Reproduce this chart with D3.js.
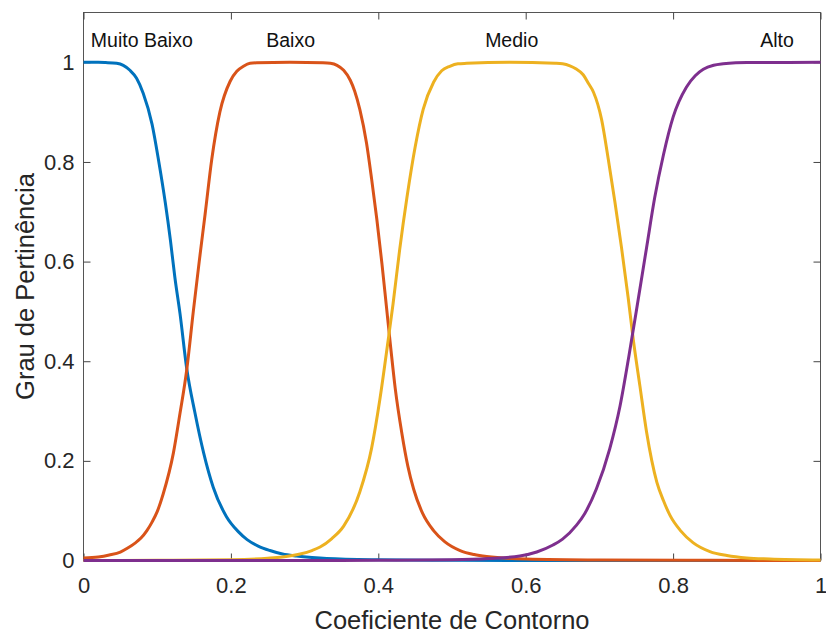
<!DOCTYPE html>
<html>
<head>
<meta charset="utf-8">
<script src="https://cdn.jsdelivr.net/npm/d3@7.9.0/dist/d3.min.js"></script>
<style>
  body { margin: 0; background: #fff; }
  svg { display: block; font-family: "Liberation Sans", Arial, Helvetica, sans-serif; }
  .axis text { fill: #262626; }
  .axis line { stroke: #444; }
</style>
</head>
<body>
<svg id="chart" width="826" height="634"></svg>
<script>
// membership functions, values
const mfNames = ["Muito Baixo", "Baixo", "Medio", "Alto"];

const muitoBaixoX = [0, 0.02, 0.03, 0.045, 0.054, 0.063, 0.072, 0.081, 0.093, 0.102, 0.111, 0.118, 0.124, 0.131, 0.140, 0.151, 0.163, 0.176, 0.194, 0.21, 0.222, 0.237, 0.253, 0.27, 0.289, 0.31, 0.33, 0.4, 0.5, 0.7, 1];
const muitoBaixoY = [1, 1, 0.9995, 0.998, 0.994, 0.984, 0.968, 0.938, 0.876, 0.802, 0.718, 0.642, 0.568, 0.495, 0.386, 0.298, 0.216, 0.147, 0.088, 0.058, 0.042, 0.029, 0.020, 0.013, 0.009, 0.006, 0.004, 0.0015, 0.0004, 0, 0];

const baixoX = [0, 0.02, 0.035, 0.05, 0.06, 0.07, 0.078, 0.086, 0.093, 0.1, 0.108, 0.122, 0.131, 0.140, 0.149, 0.157, 0.165, 0.174, 0.185, 0.199, 0.208, 0.217, 0.226, 0.235, 0.28, 0.325, 0.335, 0.344, 0.353, 0.362, 0.368, 0.375, 0.384, 0.391, 0.398, 0.405, 0.411, 0.417, 0.423, 0.432, 0.44, 0.448, 0.46, 0.475, 0.49, 0.511, 0.53, 0.547, 0.6, 0.7, 0.85, 1];
const baixoY = [0.005, 0.007, 0.011, 0.017, 0.025, 0.035, 0.045, 0.06, 0.077, 0.098, 0.133, 0.216, 0.296, 0.382, 0.5, 0.6, 0.695, 0.805, 0.9, 0.962, 0.982, 0.992, 0.998, 0.999, 1, 0.999, 0.998, 0.994, 0.984, 0.964, 0.942, 0.905, 0.838, 0.765, 0.685, 0.595, 0.51, 0.425, 0.345, 0.255, 0.19, 0.143, 0.095, 0.06, 0.038, 0.02, 0.012, 0.008, 0.003, 0.001, 0.0003, 0.0001];

const medioX = [0, 0.1, 0.2, 0.25, 0.27, 0.294, 0.31, 0.321, 0.337, 0.353, 0.375, 0.391, 0.402, 0.413, 0.42, 0.429, 0.439, 0.45, 0.461, 0.475, 0.486, 0.497, 0.508, 0.52, 0.578, 0.64, 0.65, 0.66, 0.668, 0.678, 0.685, 0.692, 0.703, 0.712, 0.721, 0.730, 0.739, 0.746, 0.755, 0.764, 0.778, 0.787, 0.796, 0.81, 0.827, 0.85, 0.873, 0.9, 0.931, 1];
const medioY = [0.0001, 0.0003, 0.0016, 0.0045, 0.007, 0.013, 0.020, 0.027, 0.044, 0.069, 0.138, 0.226, 0.322, 0.438, 0.515, 0.624, 0.73, 0.83, 0.906, 0.96, 0.983, 0.992, 0.997, 0.998, 1, 0.998, 0.997, 0.993, 0.987, 0.975, 0.958, 0.94, 0.885, 0.806, 0.72, 0.628, 0.528, 0.443, 0.35, 0.258, 0.157, 0.12, 0.09, 0.06, 0.036, 0.018, 0.010, 0.005, 0.003, 0.001];

const altoX = [0, 0.3, 0.4, 0.5, 0.55, 0.592, 0.615, 0.637, 0.65, 0.669, 0.68, 0.696, 0.714, 0.728, 0.74, 0.75, 0.764, 0.775, 0.787, 0.8, 0.818, 0.83, 0.841, 0.855, 0.868, 0.885, 0.9, 1];
const altoY = [0, 0.0001, 0.0003, 0.0015, 0.004, 0.009, 0.017, 0.031, 0.043, 0.071, 0.094, 0.144, 0.224, 0.31, 0.41, 0.5, 0.628, 0.728, 0.815, 0.89, 0.95, 0.973, 0.986, 0.994, 0.997, 0.999, 0.9995, 1];

// where each name sits along x (data units)
const labelX = [0.01, 0.281, 0.581, 0.941];

const xTicks = [0, 0.2, 0.4, 0.6, 0.8, 1];
const yTicks = [0, 0.2, 0.4, 0.6, 0.8, 1];

const colors = ["#0072BD", "#D95319", "#EDB120", "#7E2F8E"];

const series = [
  { name: mfNames[0], xs: muitoBaixoX, ys: muitoBaixoY },
  { name: mfNames[1], xs: baixoX, ys: baixoY },
  { name: mfNames[2], xs: medioX, ys: medioY },
  { name: mfNames[3], xs: altoX, ys: altoY },
].map((s, i) => ({
  ...s,
  color: colors[i],
  labelX: labelX[i],
  points: s.xs.map((v, j) => [v, s.ys[j]]),
}));

const svg = d3.select("#chart");

const xScale = d3.scaleLinear().domain([0, 1]).range([83.5, 820.5]);
const yScale = d3.scaleLinear().domain([0, 1.1]).range([560.5, 12.5]);

const fmt = (d) => (d === 0 || d === 1 ? String(d) : d3.format(".1f")(d));

// box
svg
  .append("rect")
  .attr("x", xScale(0))
  .attr("y", yScale(1.1))
  .attr("width", xScale(1) - xScale(0))
  .attr("height", yScale(0) - yScale(1.1))
  .attr("fill", "none")
  .attr("stroke", "#555")
  .attr("stroke-width", 1);

// axes, ticks pointing inward like matlab
const bottom = svg
  .append("g")
  .attr("class", "axis")
  .attr("transform", `translate(0, ${yScale(0)})`)
  .call(d3.axisBottom(xScale).tickValues(xTicks).tickFormat(fmt).tickSizeInner(-7).tickSizeOuter(0).tickPadding(17));

const left = svg
  .append("g")
  .attr("class", "axis")
  .attr("transform", `translate(${xScale(0)}, 0)`)
  .call(d3.axisLeft(yScale).tickValues(yTicks).tickFormat(fmt).tickSizeInner(-7).tickSizeOuter(0).tickPadding(9));

svg
  .append("g")
  .attr("class", "axis")
  .attr("transform", `translate(0, ${yScale(1.1)})`)
  .call(d3.axisTop(xScale).tickValues(xTicks).tickFormat("").tickSizeInner(-7).tickSizeOuter(0));

svg
  .append("g")
  .attr("class", "axis")
  .attr("transform", `translate(${xScale(1)}, 0)`)
  .call(d3.axisRight(yScale).tickValues(yTicks).tickFormat("").tickSizeInner(-7).tickSizeOuter(0));

svg.selectAll(".axis .domain").remove();
bottom.selectAll("text").style("font-size", "22px");
left.selectAll("text").style("font-size", "22px");
svg.selectAll(".axis").attr("font-family", null);

// curves
const line = d3
  .line()
  .x((d) => xScale(d[0]))
  .y((d) => yScale(d[1]))
  .curve(d3.curveMonotoneX);

svg
  .append("g")
  .selectAll("path")
  .data(series)
  .join("path")
  .attr("d", (d) => line(d.points))
  .attr("fill", "none")
  .attr("stroke", (d) => d.color)
  .attr("stroke-width", 3)
  .attr("stroke-linejoin", "round");

// mf names
svg
  .append("g")
  .selectAll("text")
  .data(series)
  .join("text")
  .attr("x", (d) => xScale(d.labelX))
  .attr("y", yScale(1.03))
  .attr("text-anchor", (d, i) => (i === 0 ? "start" : "middle"))
  .style("font-size", "19.5px")
  .attr("fill", "#111")
  .text((d) => d.name);

// axis labels
svg
  .append("text")
  .attr("x", (xScale(0) + xScale(1)) / 2)
  .attr("y", 629)
  .attr("text-anchor", "middle")
  .style("font-size", "25.5px")
  .attr("fill", "#262626")
  .text("Coeficiente de Contorno");

svg
  .append("text")
  .attr("transform", `translate(33.5, ${(yScale(0) + yScale(1.1)) / 2}) rotate(-90)`)
  .attr("text-anchor", "middle")
  .style("font-size", "25.5px")
  .attr("fill", "#262626")
  .text("Grau de Pertinência");
</script>
</body>
</html>
